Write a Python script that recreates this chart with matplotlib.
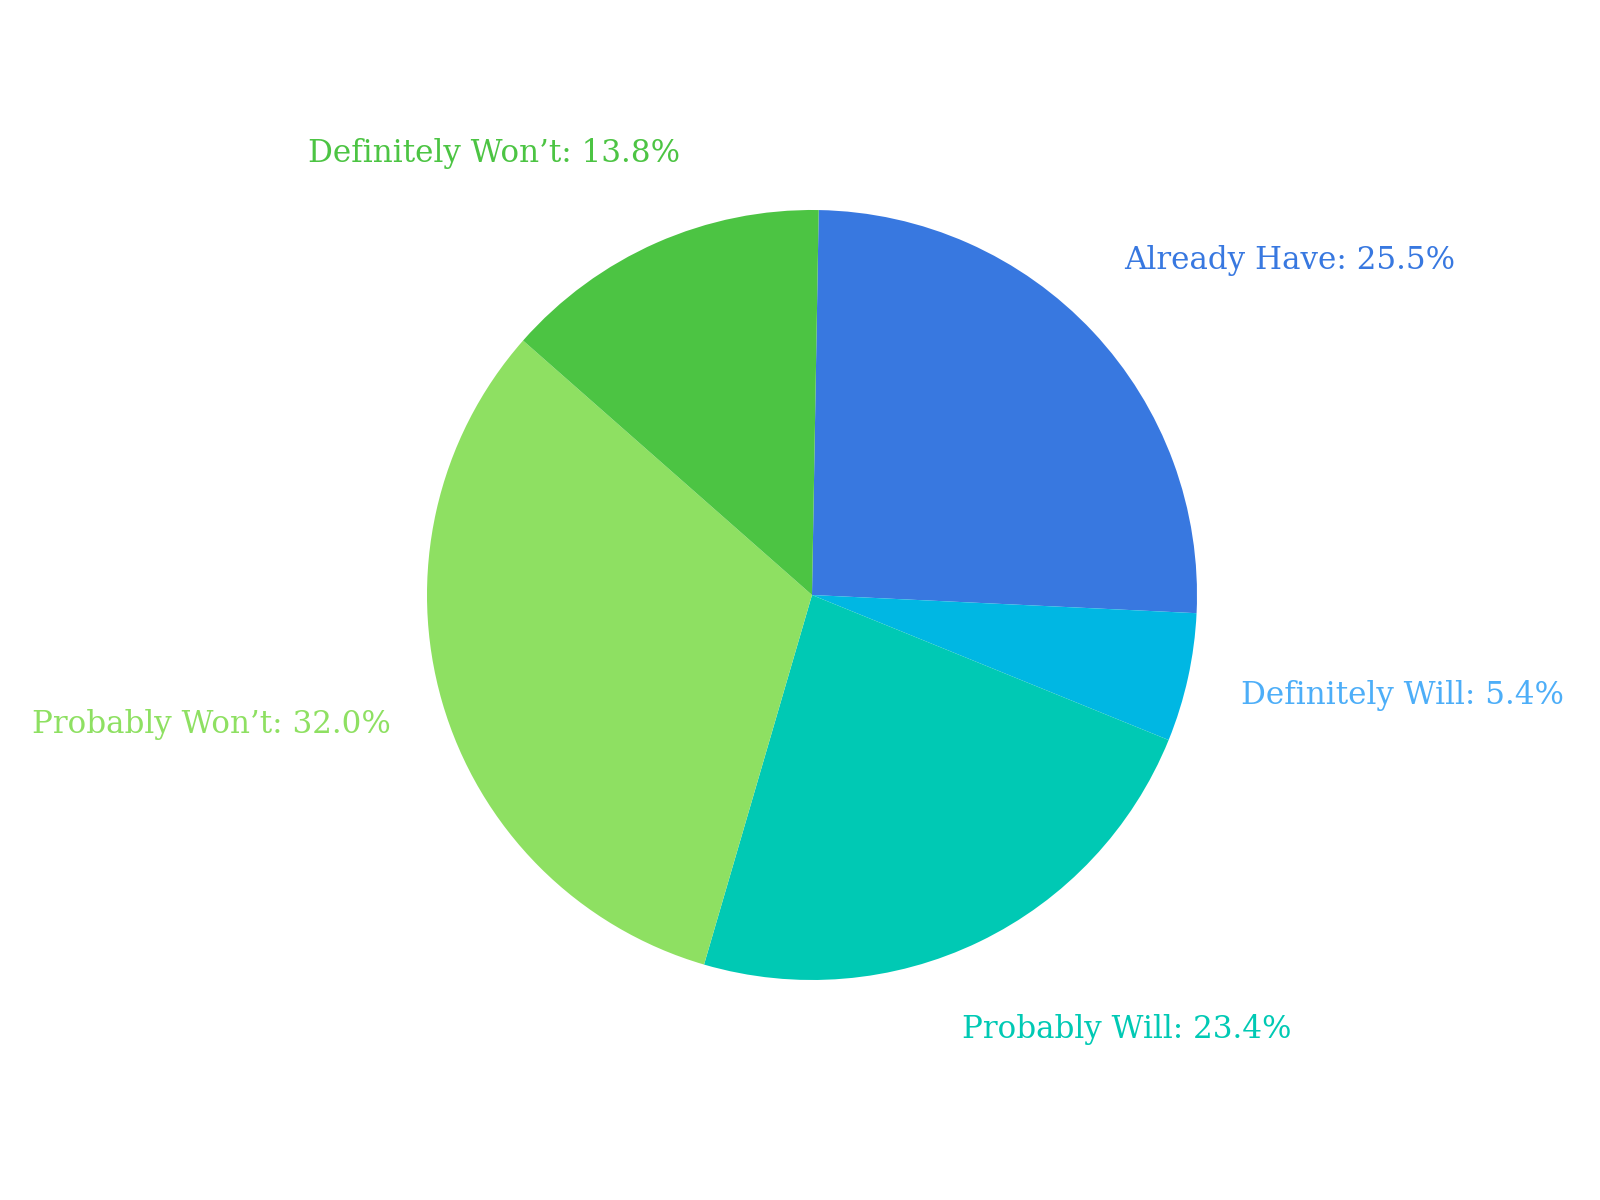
import numpy as np
import matplotlib
matplotlib.use("Agg")
import matplotlib.pyplot as plt

# -------------------------
# data
# -------------------------
labels = ["Already Have", "Definitely Will", "Probably Will", "Probably Won\u2019t", "Definitely Won\u2019t"]
shares = [25.5, 5.4, 23.4, 32.0, 13.8]
slice_colors = ["#3878E0", "#00B7E3", "#00C9B4", "#8EE062", "#4CC443"]
text_colors = ["#3878E0", "#4DAEF8", "#00C9B4", "#8EE062", "#4CC443"]

plt.rcParams["font.family"] = ["DejaVu Serif", "DejaVu Sans"]

# -------------------------
# figure: pie radius 1, centre in figure pixel (812, 595), radius 385 px
# -------------------------
W, H, R_PX = 1600, 1200, 385
cx, cy = 812, 595
fig = plt.figure(figsize=(16, 12), dpi=100)
ax = fig.add_axes([0, 0, 1, 1])

start = 89
wedges, _ = ax.pie(shares, colors=slice_colors, startangle=start, counterclock=False,
                   radius=1, center=(0, 0), frame=True,
                   wedgeprops=dict(linewidth=0))
ax.set_xlim(-cx / R_PX, (W - cx) / R_PX)
ax.set_ylim(-(H - cy) / R_PX, cy / R_PX)
ax.set_aspect("equal")
ax.axis("off")

# outside labels: nearest corner of the text sits just outside the slice's mid ray,
# labels near the top/bottom pulled a little toward the middle
total = sum(shares)
dx, dy, pull = 1.14, 1.21, 0.2
for w, lab, v, col in zip(wedges, labels, shares, text_colors):
    mid = np.deg2rad((w.theta1 + w.theta2) / 2)
    c, s = np.cos(mid), np.sin(mid)
    x = dx * c - np.sign(c) * pull * s ** 6
    y = dy * s
    ha = "left" if c > 0 else "right"
    va = "bottom" if y > 0.35 else ("top" if y < -0.35 else "center")
    ax.text(x, y, f"{lab}: {v / total * 100:.1f}%", color=col, fontsize=22.3,
            ha=ha, va=va)

fig.savefig("out.png", dpi=100, facecolor="white")
